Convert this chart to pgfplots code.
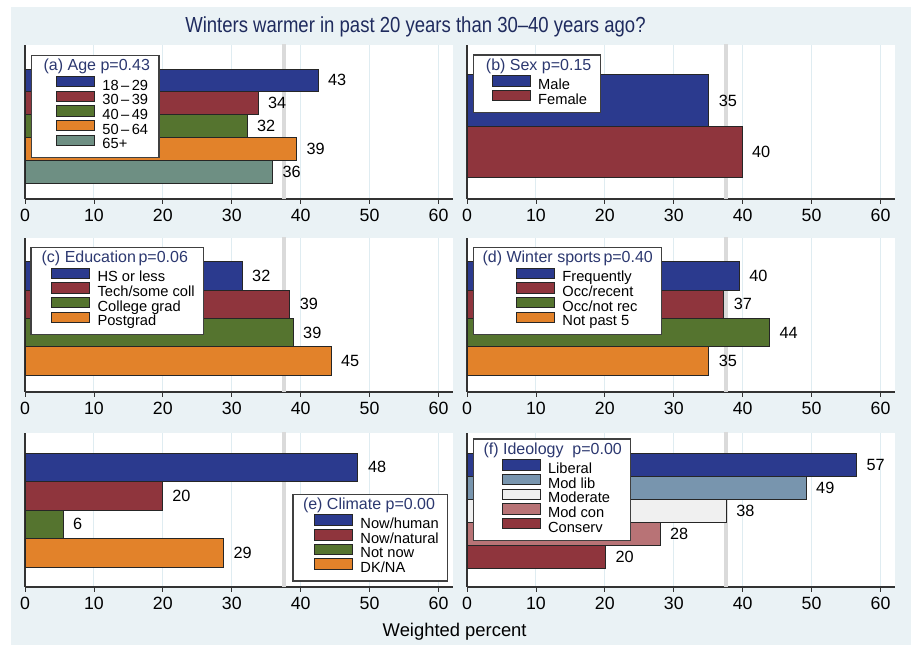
\documentclass[border=0pt]{standalone}
\usepackage{fontspec}
\setmainfont{Liberation Sans}
\newfontfamily\titlefont[FakeStretch=0.85]{Liberation Sans}
\usepackage{pgfplots}
\pgfplotsset{compat=1.18}

\definecolor{bgblue}{HTML}{EAF2F5}
\definecolor{gridblue}{HTML}{DFECF1}
\definecolor{meangray}{HTML}{DADADA}
\definecolor{cnavy}{HTML}{2B3A8E}
\definecolor{cmaroon}{HTML}{8F353D}
\definecolor{cgreen}{HTML}{55742F}
\definecolor{corange}{HTML}{E2822A}
\definecolor{cteal}{HTML}{6E8F83}
\definecolor{cmodlib}{HTML}{7895AE}
\definecolor{cmoder}{HTML}{F0F0F0}
\definecolor{cmodcon}{HTML}{B87376}
\definecolor{titlenavy}{HTML}{1F2B5E}
\definecolor{legnavy}{HTML}{2C3870}

\newcommand\legtitle[2]{\hspace*{-#1}{\fontsize{12}{13}\selectfont #2}}

\pgfplotsset{
 panel/.style={
   scale only axis, width=321pt, height=115.5pt,
   xmin=0, xmax=62.1,
   axis lines*=left, axis line style={-, draw=black!80, line width=0.8pt},
   xtick={0,10,...,60}, ytick=\empty,
   tick align=outside, major tick length=3.75pt,
   tick style={draw=black!80, line width=0.6pt},
   xmajorgrids, major grid style={draw=gridblue, line width=0.8pt},
   axis background/.style={fill=white},
   tick label style={font=\fontsize{13.3}{15}\selectfont},
   /pgf/number format/assume math mode=true,
   legend cell align=left,
   legend style={draw=black!75, line width=0.9pt, fill=white,
     font=\fontsize{11}{12}\selectfont, inner xsep=6.75pt, inner ysep=3.5pt,
     column sep=5.6pt, row sep=-2.5pt,
     nodes={inner sep=0pt, text height=8pt, text depth=2.8pt}},
 },
 mybar/.style={xbar, bar width=1, bar shift=0pt, fill=#1, draw=black!85,
   line width=0.6pt, nodes near coords, point meta=explicit symbolic,
   every node near coord/.append style={anchor=west, inner sep=0pt,
     xshift=7.3pt, font=\fontsize{12.2}{14}\selectfont, text=black}},
 swatch/.style={legend image code/.code={\path[draw=none,fill=none] (0pt,0pt) -- (#1,0pt);
   \draw[##1, line width=0.6pt] (#1,-0.1pt) rectangle ++(28.5pt,7.9pt);}},
 meanline/.style={forget plot, draw=meangray, line width=3pt},
}

\begin{document}
\begin{tikzpicture}
\fill[white] (0pt,0pt) rectangle (683.25pt,-483.75pt);
\fill[bgblue] (8.25pt,-5.25pt) rectangle (683.25pt,-483.75pt);

\node[anchor=base west, inner sep=0pt, text=titlenavy,
  font=\titlefont\fontsize{16.35}{18}\selectfont] at (138.75pt,-24.2pt)
  {Winters warmer in past 20 years than 30–40 years ago?};
\node[anchor=base, inner sep=0pt, font=\fontsize{13.8}{15}\selectfont]
  at (341pt,-477pt) {Weighted percent};

% (a) Age
\begin{axis}[panel, at={(18.75pt,-33.75pt)}, anchor=north west,
  ymin=-0.2, ymax=6.55, swatch=12pt,
  legend style={at={(axis description cs:0,1)}, anchor=north west,
    xshift=4.5pt, yshift=-7.5pt}]
\addlegendimage{empty legend}
\addlegendentry[text=legnavy, text depth=6.2pt]{\legtitle{44.1pt}{(a) Age p=0.43}}
\addplot[meanline] coordinates {(37.6,-5) (37.6,10)};
\addplot[mybar=cnavy] coordinates {(42.5,5) [43]};
\addlegendentry{18\,–\,29}
\addplot[mybar=cmaroon] coordinates {(33.8,4) [34]};
\addlegendentry{30\,–\,39}
\addplot[mybar=cgreen] coordinates {(32.2,3) [32]};
\addlegendentry{40\,–\,49}
\addplot[mybar=corange] coordinates {(39.4,2) [39]};
\addlegendentry{50\,–\,64}
\addplot[mybar=cteal] coordinates {(35.9,1) [36]};
\addlegendentry{65+}
\end{axis}

% (b) Sex
\begin{axis}[panel, at={(350.25pt,-33.75pt)}, anchor=north west,
  ymin=0.09, ymax=3.08, swatch=7.5pt,
  legend style={at={(axis description cs:0,1)}, anchor=north west,
    xshift=4.3pt, yshift=-7pt}]
\addlegendimage{empty legend}
\addlegendentry[text=legnavy, text depth=6.2pt]{\legtitle{39.2pt}{(b) Sex p=0.15}}
\addplot[meanline] coordinates {(37.6,-5) (37.6,10)};
\addplot[mybar=cnavy] coordinates {(35.07,2) [35]};
\addlegendentry{Male}
\addplot[mybar=cmaroon] coordinates {(39.9,1) [40]};
\addlegendentry{Female}
\end{axis}

% (c) Education
\begin{axis}[panel, at={(18.75pt,-178.5pt)}, anchor=north west,
  ymin=-0.1, ymax=5.34, swatch=8.8pt,
  legend style={at={(axis description cs:0,1)}, anchor=north west,
    xshift=4pt, yshift=-6.5pt}]
\addlegendimage{empty legend}
\addlegendentry[text=legnavy, text depth=6.2pt]{\legtitle{41.9pt}{(c) Education\,p=0.06}}
\addplot[meanline] coordinates {(37.6,-5) (37.6,10)};
\addplot[mybar=cnavy] coordinates {(31.5,4) [32]};
\addlegendentry{HS or less}
\addplot[mybar=cmaroon] coordinates {(38.4,3) [39]};
\addlegendentry{Tech/some coll}
\addplot[mybar=cgreen] coordinates {(38.9,2) [39]};
\addlegendentry{College grad}
\addplot[mybar=corange] coordinates {(44.4,1) [45]};
\addlegendentry{Postgrad}
\end{axis}

% (d) Winter sports
\begin{axis}[panel, at={(350.25pt,-178.5pt)}, anchor=north west,
  ymin=-0.1, ymax=5.34, swatch=25.3pt,
  legend style={at={(axis description cs:0,1)}, anchor=north west,
    xshift=4.7pt, yshift=-6.5pt}]
\addlegendimage{empty legend}
\addlegendentry[text=legnavy, text depth=6.2pt]{\legtitle{59.9pt}{(d) Winter sports\,p=0.40}}
\addplot[meanline] coordinates {(37.6,-5) (37.6,10)};
\addplot[mybar=cnavy] coordinates {(39.5,4) [40]};
\addlegendentry{Frequently}
\addplot[mybar=cmaroon] coordinates {(37.25,3) [37]};
\addlegendentry{Occ/recent}
\addplot[mybar=cgreen] coordinates {(43.9,2) [44]};
\addlegendentry{Occ/not rec}
\addplot[mybar=corange] coordinates {(35.07,1) [35]};
\addlegendentry{Not past 5}
\end{axis}

% (e) Climate
\begin{axis}[panel, at={(18.75pt,-324.75pt)}, anchor=north west,
  ymin=-0.2, ymax=5.2, swatch=9.5pt,
  legend style={at={(axis description cs:1,0)}, anchor=south east,
    xshift=-3.5pt, yshift=4pt}]
\addlegendimage{empty legend}
\addlegendentry[text=legnavy, text depth=6.2pt]{\legtitle{43.1pt}{(e) Climate p=0.00}}
\addplot[meanline] coordinates {(37.6,-5) (37.6,10)};
\addplot[mybar=cnavy] coordinates {(48.3,4) [48]};
\addlegendentry{Now/human}
\addplot[mybar=cmaroon] coordinates {(19.9,3) [20]};
\addlegendentry{Now/natural}
\addplot[mybar=cgreen] coordinates {(5.5,2) [6]};
\addlegendentry{Not now}
\addplot[mybar=corange] coordinates {(28.8,1) [29]};
\addlegendentry{DK/NA}
\end{axis}

% (f) Ideology
\begin{axis}[panel, at={(350.25pt,-324.75pt)}, anchor=north west,
  ymin=-0.33, ymax=6.37, swatch=14.5pt,
  legend style={at={(axis description cs:0,1)}, anchor=north west,
    xshift=4.7pt, yshift=-4pt}]
\addlegendimage{empty legend}
\addlegendentry[text=legnavy, text depth=6.2pt]{\legtitle{48.4pt}{(f) Ideology\ \ p=0.00}}
\addplot[meanline] coordinates {(37.6,-5) (37.6,10)};
\addplot[mybar=cnavy] coordinates {(56.5,5) [57]};
\addlegendentry{Liberal}
\addplot[mybar=cmodlib] coordinates {(49.2,4) [49]};
\addlegendentry{Mod lib}
\addplot[mybar=cmoder] coordinates {(37.6,3) [38]};
\addlegendentry{Moderate}
\addplot[mybar=cmodcon] coordinates {(28.0,2) [28]};
\addlegendentry{Mod con}
\addplot[mybar=cmaroon] coordinates {(20.1,1) [20]};
\addlegendentry{Conserv}
\end{axis}
\end{tikzpicture}
\end{document}
